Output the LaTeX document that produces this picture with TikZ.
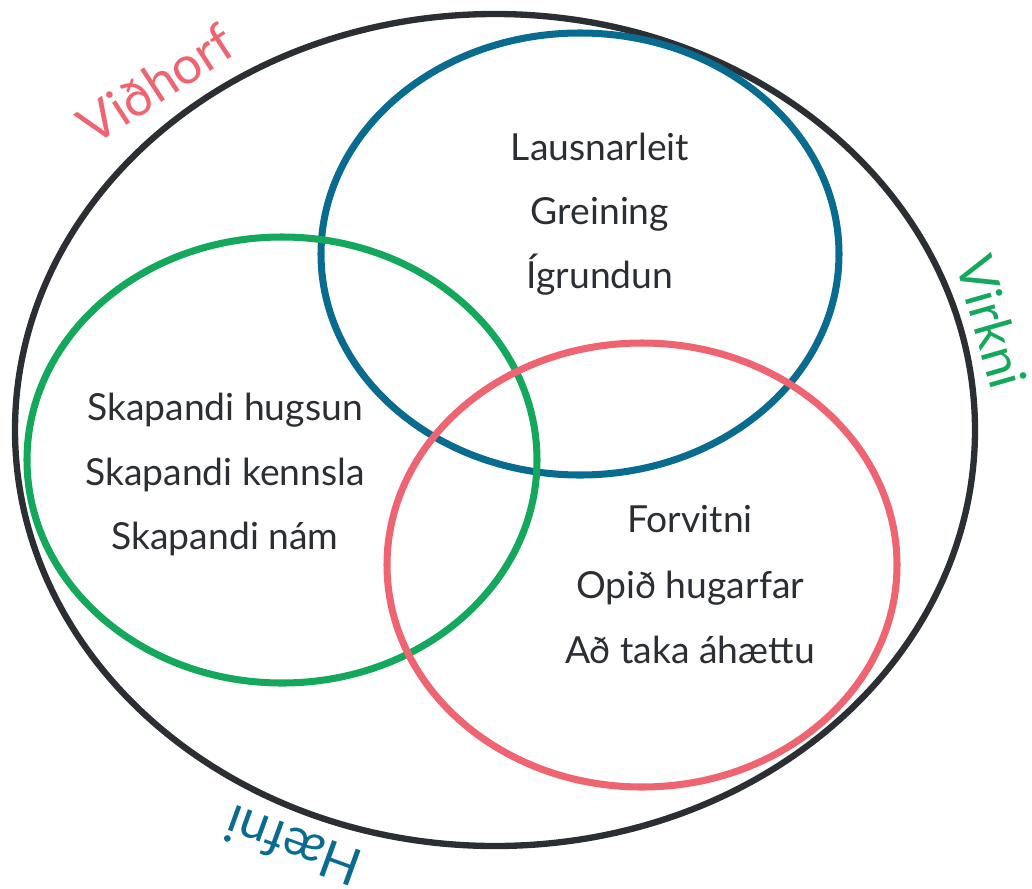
\documentclass[tikz,border=0pt]{standalone}
\usepackage{fontspec}
\setmainfont{Lato}
\usepackage{tikz}
\usetikzlibrary{positioning}
\definecolor{rimdark}{HTML}{2B2E33}
\definecolor{setblue}{HTML}{0A6B91}
\definecolor{setgreen}{HTML}{14A85C}
\definecolor{setred}{HTML}{EE6470}

\begin{document}
\begin{tikzpicture}[
        x=0.025cm, y=-0.025cm,
        every node/.style={font=\fontsize{26.5}{30}\selectfont, text=rimdark, inner sep=0pt},
        itm/.style={anchor=base},
        dimlbl/.style={font=\fontsize{37}{40}\selectfont},
        riml/.style={draw=rimdark, line width=4.5pt},
        setl/.style={line width=5pt}
    ]
    \useasboundingbox (0,0) rectangle (1032,888);

    % ytri sporbaugur og nöfn hans
    \draw[riml] (495,430) ellipse [x radius=480, y radius=416];
    \node[dimlbl, text=setred, rotate=33] (vidhorf) at (156,84) {Viðhorf};
    \node[dimlbl, text=setgreen, rotate=-74] (virkni) at (992,322) {Virkni};
    \node[dimlbl, text=setblue, rotate=160] (haefni) at (293,846) {Hæfni};

    % =============== þrír hringir ===============
    \draw[setl, draw=setblue]  (580,254) ellipse [x radius=259, y radius=221];
    \draw[setl, draw=setgreen] (282,460) ellipse [x radius=255, y radius=223];
    \draw[setl, draw=setred]   (642,565) ellipse [x radius=255, y radius=222];

    % efri hringur
    \node[itm] (lausn) at (600,160) {Lausnarleit};
    \node[itm] (grein) at (600,224) {Greining};
    \node[itm] (igrun) at (600,288) {Ígrundun};

    % vinstri hringur
    \node[itm] (hugs) at (225,420) {Skapandi hugsun};
    \node[itm] (kenn) at (225,485) {Skapandi kennsla};
    \node[itm] (nam)  at (225,549) {Skapandi nám};

    % neðri hringur
    \node[itm] (forv) at (690,532) {Forvitni};
    \node[itm] (opid) at (690,598) {Opið hugarfar};
    \node[itm] (ahaet) at (690,663) {Að taka áhættu};
\end{tikzpicture}
\end{document}
